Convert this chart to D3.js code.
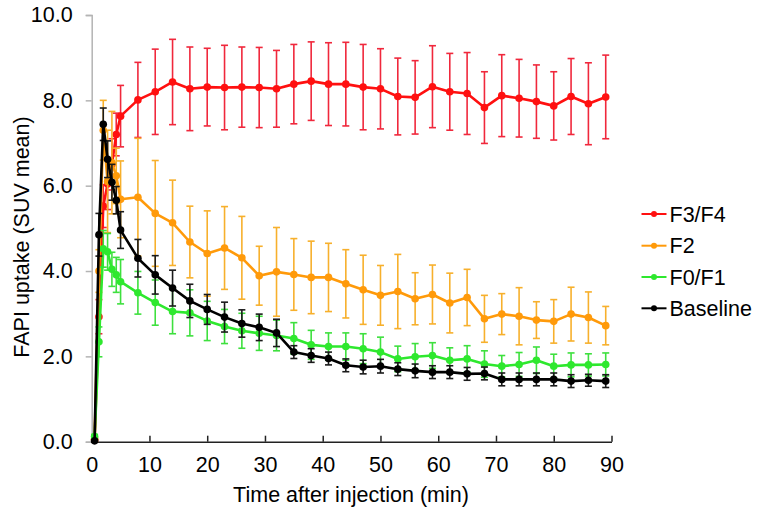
<!DOCTYPE html>
<html>
<head>
<meta charset="utf-8">
<script src="https://cdn.jsdelivr.net/npm/d3@7/dist/d3.min.js"></script>
<style>
  html, body { margin: 0; padding: 0; background: #fff; }
  svg { display: block; font-family: "Liberation Sans", Arial, sans-serif; }
</style>
</head>
<body>
<svg id="chart" width="760" height="517"></svg>
<script>
// ---- data ----
const times = [0.5, 1.25, 2, 2.75, 3.5, 4.25, 5, 8, 11, 14, 17, 20, 23, 26, 29, 32, 35, 38, 41, 44, 47, 50, 53, 56, 59, 62, 65, 68, 71, 74, 77, 80, 83, 86, 89];

const f34 = [0.05, 2.93, 5.52, 6.04, 6.5, 7.20, 7.63, 8.01, 8.20, 8.43, 8.27, 8.31, 8.30, 8.31, 8.30, 8.27, 8.38, 8.45, 8.38, 8.38, 8.31, 8.27, 8.09, 8.07, 8.32, 8.20, 8.16, 7.83, 8.11, 8.05, 7.97, 7.87, 8.09, 7.92, 8.08];
const f34Err = [0.05, 0.4, 0.5, 0.6, 0.6, 0.5, 0.72, 0.88, 1.0, 1.0, 0.98, 0.91, 0.99, 0.94, 0.94, 0.9, 0.93, 0.92, 0.97, 0.98, 1.0, 0.94, 0.9, 0.86, 0.96, 0.9, 0.96, 0.84, 0.96, 0.91, 0.86, 0.8, 0.89, 0.96, 0.98];

const f2 = [0.05, 4.0, 7.30, 6.1, 6.54, 6.23, 5.68, 5.73, 5.35, 5.13, 4.68, 4.41, 4.54, 4.31, 3.89, 3.98, 3.92, 3.85, 3.85, 3.70, 3.56, 3.43, 3.52, 3.35, 3.45, 3.25, 3.38, 2.88, 2.99, 2.94, 2.85, 2.82, 2.99, 2.91, 2.72];
const f2Err = [0.05, 0.5, 0.7, 1.2, 1.2, 0.65, 0.9, 1.38, 1.24, 1.0, 0.84, 1.0, 0.97, 0.97, 0.69, 1.04, 0.84, 0.85, 0.8, 0.8, 0.81, 0.70, 0.87, 0.61, 0.69, 0.70, 0.66, 0.55, 0.48, 0.67, 0.43, 0.51, 0.63, 0.6, 0.45];

const f01 = [0.12, 2.34, 4.52, 4.45, 4.04, 3.91, 3.75, 3.49, 3.26, 3.05, 3.02, 2.83, 2.70, 2.60, 2.54, 2.49, 2.42, 2.27, 2.23, 2.23, 2.18, 2.10, 1.94, 1.99, 2.02, 1.91, 1.94, 1.82, 1.77, 1.81, 1.91, 1.77, 1.80, 1.80, 1.81];
const f01Err = [0.05, 0.35, 0.43, 0.43, 0.4, 0.41, 0.52, 0.5, 0.53, 0.52, 0.54, 0.46, 0.4, 0.41, 0.4, 0.36, 0.37, 0.34, 0.32, 0.32, 0.35, 0.35, 0.3, 0.31, 0.3, 0.29, 0.31, 0.31, 0.25, 0.28, 0.31, 0.28, 0.28, 0.26, 0.27];

const baseline = [0.02, 4.85, 7.44, 6.62, 6.08, 5.66, 4.96, 4.30, 3.91, 3.60, 3.30, 3.10, 2.92, 2.77, 2.68, 2.55, 2.10, 2.02, 1.95, 1.79, 1.75, 1.77, 1.70, 1.66, 1.63, 1.63, 1.59, 1.60, 1.46, 1.46, 1.46, 1.46, 1.42, 1.44, 1.42];
const baselineErr = [0.02, 0.5, 0.38, 0.43, 0.42, 0.32, 0.43, 0.44, 0.45, 0.42, 0.39, 0.35, 0.35, 0.32, 0.31, 0.32, 0.15, 0.16, 0.15, 0.15, 0.16, 0.16, 0.15, 0.16, 0.15, 0.15, 0.15, 0.15, 0.15, 0.15, 0.15, 0.15, 0.15, 0.14, 0.15];

const seriesNames = ["F3/F4", "F2", "F0/F1", "Baseline"];
const xTicks = [0, 10, 20, 30, 40, 50, 60, 70, 80, 90];
const yTicks = [0, 2, 4, 6, 8, 10];
const xTitle = "Time after injection (min)";
const yTitle = "FAPI uptake (SUV mean)";

// ---- styles ----
const colors = { "F3/F4": "#ff1010", "F2": "#ff9a0a", "F0/F1": "#2ee82e", "Baseline": "#000000" };
const errColors = { "F3/F4": "#f0283c", "F2": "#f7b02c", "F0/F1": "#3ee03e", "Baseline": "#1a1a1a" };
const fontSize = 21.5;

const series = [
  { name: seriesNames[0], values: f34, errs: f34Err },
  { name: seriesNames[1], values: f2, errs: f2Err },
  { name: seriesNames[2], values: f01, errs: f01Err },
  { name: seriesNames[3], values: baseline, errs: baselineErr }
];

const svg = d3.select("#chart");
const mLeft = 91.7, mRight = 611.5, mTop = 15, mBottom = 441.7;

const x = d3.scaleLinear().domain([0, 90]).range([mLeft, mRight]);
const y = d3.scaleLinear().domain([0, 10]).range([mBottom, mTop]);

// y axis
const yAxis = svg.append("g").attr("transform", `translate(${mLeft},0)`)
  .call(d3.axisLeft(y).tickValues(yTicks).tickFormat(d3.format(".1f")).tickSize(6).tickPadding(13));
yAxis.select(".domain").attr("stroke", "#b4b4b4").attr("stroke-width", 1.5);
yAxis.selectAll(".tick line").attr("stroke", "#b4b4b4").attr("stroke-width", 1.5);
yAxis.selectAll("text").attr("font-size", fontSize).attr("fill", "#000").attr("font-family", "Liberation Sans, Arial, sans-serif");

// x axis
const xAxis = svg.append("g").attr("transform", `translate(0,${mBottom})`)
  .call(d3.axisBottom(x).tickValues(xTicks).tickFormat(d3.format("d")).tickSizeInner(-6).tickSizeOuter(0).tickPadding(15));
xAxis.select(".domain").attr("stroke", "#222").attr("stroke-width", 1.5);
xAxis.selectAll(".tick line").attr("stroke", "#222").attr("stroke-width", 1.5);
xAxis.selectAll("text").attr("font-size", fontSize).attr("fill", "#000").attr("font-family", "Liberation Sans, Arial, sans-serif");

// titles
svg.append("text").attr("x", 351).attr("y", 502)
  .attr("text-anchor", "middle").attr("font-size", fontSize).attr("fill", "#000").text(xTitle);
svg.append("text").attr("transform", `translate(29,${237}) rotate(-90)`)
  .attr("text-anchor", "middle").attr("font-size", fontSize).attr("fill", "#000").text(yTitle);

const line = d3.line().x(d => x(d.t)).y(d => y(d.v));

series.forEach(s => {
  const pts = times.map((t, i) => ({ t, v: s.values[i], e: s.errs[i] }));
  const g = svg.append("g");
  // error bars
  const eb = g.append("g").attr("stroke", errColors[s.name]).attr("stroke-width", 1.6).attr("fill", "none");
  pts.forEach(p => {
    const xx = x(p.t), y1 = y(p.v + p.e), y2 = y(p.v - p.e);
    eb.append("line").attr("x1", xx).attr("x2", xx).attr("y1", y1).attr("y2", y2);
    eb.append("line").attr("x1", xx - 3.5).attr("x2", xx + 3.5).attr("y1", y1).attr("y2", y1);
    eb.append("line").attr("x1", xx - 3.5).attr("x2", xx + 3.5).attr("y1", y2).attr("y2", y2);
  });
  g.append("path").datum(pts).attr("d", line).attr("fill", "none")
    .attr("stroke", colors[s.name]).attr("stroke-width", 2.6).attr("stroke-linejoin", "round");
  g.selectAll("circle").data(pts).enter().append("circle")
    .attr("cx", d => x(d.t)).attr("cy", d => y(d.v)).attr("r", 3.8).attr("fill", colors[s.name]);
});

// legend
const legY = [214, 245.7, 277, 308.3];
series.forEach((s, i) => {
  const lg = svg.append("g").attr("transform", `translate(0,${legY[i]})`);
  lg.append("line").attr("x1", 641.5).attr("x2", 666.5).attr("y1", 0).attr("y2", 0)
    .attr("stroke", colors[s.name]).attr("stroke-width", 2);
  lg.append("circle").attr("cx", 654).attr("cy", 0).attr("r", 3).attr("fill", colors[s.name]);
  lg.append("text").attr("x", 669.5).attr("y", 7.5).attr("font-size", fontSize).attr("fill", "#000").text(s.name);
});
</script>
</body>
</html>
